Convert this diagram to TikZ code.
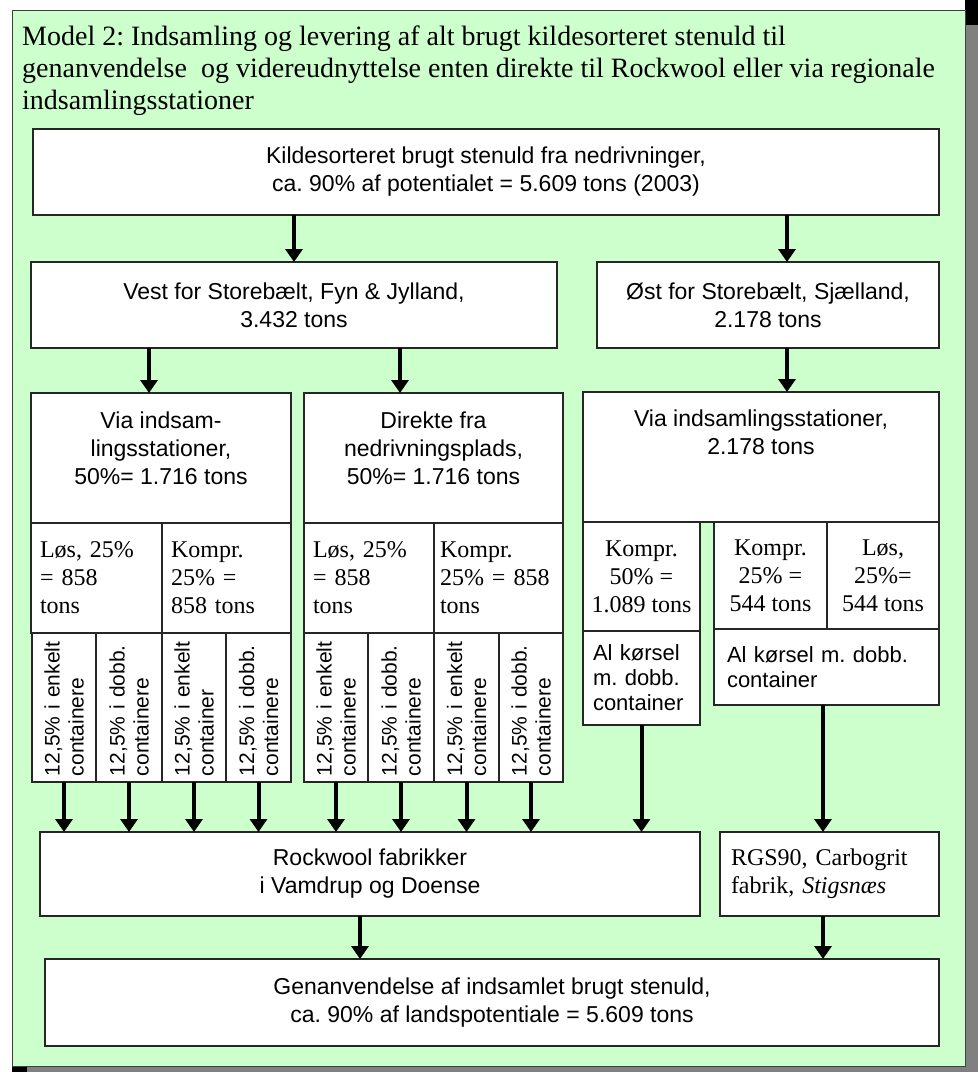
\documentclass[tikz,border=0pt]{standalone}
\usepackage{fontspec}
\setmainfont{Liberation Serif}
\setsansfont{Liberation Sans}
\frenchspacing
\usetikzlibrary{arrows.meta, positioning, calc}

\definecolor{bggreen}{RGB}{204,255,204}
\definecolor{shadowgray}{RGB}{128,128,128}

\tikzset{
  box/.style={draw=black!85, line width=1.5pt, fill=white, inner sep=0pt, outer sep=0pt,
    align=center, font=\sffamily\fontsize{23}{28}\selectfont},
  sbox/.style={box, font=\rmfamily\fontsize{24}{28}\selectfont},
  lbox/.style={box, align=left, font=\sffamily\fontsize{22}{25}\selectfont},
  vbox/.style={box, rotate=90, align=left, inner xsep=6pt, text width=137pt,
    minimum width=149pt, font=\sffamily\fontsize{21}{24}\selectfont},
  txt/.style={align=center, inner sep=0pt, font=\sffamily\fontsize{23}{28}\selectfont},
  flow/.style={line width=4pt, -{Triangle[length=13pt,width=17pt]}}
}

\begin{document}
\begin{tikzpicture}[x=1pt, y=-1pt]
  \useasboundingbox (0,0) rectangle (978,1072);
  % frame with shadow
  \fill[shadowgray] (27,25) rectangle (978,1072);
  \fill[black] (965,0) rectangle (978,25);
  \fill[black] (12,1066) rectangle (27,1072);
  \filldraw[fill=bggreen, draw=black!75, line width=1pt] (12,10) rectangle (965,1066);

  \node[anchor=north west, inner sep=0pt, align=left, font=\rmfamily\fontsize{28}{32}\selectfont] (title) at (22,26)
    {Model 2: Indsamling og levering af alt brugt kildesorteret stenuld til\\
     genanvendelse\ \ og videreudnyttelse enten direkte til Rockwool eller via regionale\\
     indsamlingsstationer};

\node[box, minimum width=906pt, minimum height=86pt] (kilde) at (486,172) {Kildesorteret brugt stenuld fra nedrivninger,\\ca. 90\% af potentialet = 5.609 tons (2003)};
\node[box, minimum width=526pt, minimum height=86pt] (vest) at (294,305) {Vest for Storebælt, Fyn \& Jylland,\\3.432 tons};
\node[box, minimum width=342pt, minimum height=86pt] (oest) at (768,305) {Øst for Storebælt, Sjælland,\\2.178 tons};

\node[box, minimum width=260pt, minimum height=130pt] (viaV) at (161,458) {};
\node[txt] (viaVtxt) at (161,448.5) {Via indsam-\\lingsstationer,\\50\%= 1.716 tons};
\node[box, minimum width=259pt, minimum height=130pt] (direkte) at (433.5,458) {};
\node[txt] (direktetxt) at (433.5,448.5) {Direkte fra\\nedrivningsplads,\\50\%= 1.716 tons};
\node[box, minimum width=356pt, minimum height=130pt] (viaO) at (761,457) {};
\node[txt] (viaOtxt) at (761,432.5) {Via indsamlingsstationer,\\2.178 tons};

% west: loose / compressed
\node[sbox, align=left, inner xsep=9pt, minimum width=131pt, minimum height=110pt, text width=113pt] (losV) at (96.5,578) {Løs, 25\%\\= 858\\tons};
\node[sbox, align=left, inner xsep=9pt, minimum width=129pt, minimum height=110pt, text width=111pt] (komprV) at (226.5,578) {Kompr.\\25\% =\\858 tons};
\node[sbox, align=left, inner xsep=9pt, minimum width=130pt, minimum height=110pt, text width=112pt] (losD) at (369,578) {Løs, 25\%\\= 858\\tons};
\node[sbox, align=left, inner xsep=6pt, minimum width=129pt, minimum height=110pt, text width=117pt] (komprD) at (498.5,578) {Kompr.\\25\% = 858\\tons};

\node[vbox, minimum height=64pt] (v1) at (64,707.5) {12,5\% i enkelt\\containere};
\node[vbox, minimum height=66pt] (v2) at (129,707.5) {12,5\% i dobb.\\containere};
\node[vbox, minimum height=64pt] (v3) at (194,707.5) {12,5\% i enkelt\\container};
\node[vbox, minimum height=65pt] (v4) at (258.5,707.5) {12,5\% i dobb.\\containere};
\node[vbox, minimum height=64pt] (v5) at (336,707.5) {12,5\% i enkelt\\containere};
\node[vbox, minimum height=66pt] (v6) at (401,707.5) {12,5\% i dobb.\\containere};
\node[vbox, minimum height=65pt] (v7) at (466.5,707.5) {12,5\% i enkelt\\containere};
\node[vbox, minimum height=64pt] (v8) at (531,707.5) {12,5\% i dobb.\\containere};

% east
\node[sbox, minimum width=117pt, minimum height=109pt] (kompr50) at (641.5,576.5) {Kompr.\\50\% =\\1.089 tons};
\node[lbox, inner xsep=10pt, minimum width=117pt, minimum height=94pt, text width=97pt] (koersel1) at (641.5,678) {Al kørsel\\m. dobb.\\container};
\node[sbox, minimum width=113pt, minimum height=107pt] (kompr25) at (770.5,575.5) {Kompr.\\25\% =\\544 tons};
\node[sbox, minimum width=112pt, minimum height=107pt] (los25) at (883,575.5) {Løs,\\25\%=\\544 tons};
\node[lbox, inner xsep=13pt, minimum width=225pt, minimum height=76pt, text width=199pt] (koersel2) at (826.5,667) {Al kørsel m. dobb.\\container};

\node[box, minimum width=660pt, minimum height=84pt] (rockwool) at (370,874) {Rockwool fabrikker\\i Vamdrup og Doense};
\node[sbox, align=left, inner xsep=11pt, minimum width=219pt, minimum height=84pt, text width=197pt] (rgs) at (829.5,874) {RGS90, Carbogrit\\fabrik, \textit{Stigsnæs}};
\node[box, minimum width=894pt, minimum height=87pt] (genanv) at (492,1002.5) {Genanvendelse af indsamlet brugt stenuld,\\ca. 90\% af landspotentiale = 5.609 tons};

\coordinate (eastx) at (787,0);
\coordinate (viax) at (149,0);
\coordinate (direktex) at (400,0);
\coordinate (rgsx) at (823,0);
\coordinate (rockx) at (360,0);

\path[flow]
  (kilde.south -| vest.north) edge (vest.north)
  (kilde.south -| eastx) edge (oest.north -| eastx)
  (vest.south -| viax) edge (viaV.north -| viax)
  (vest.south -| direktex) edge (direkte.north -| direktex)
  (oest.south -| eastx) edge (viaO.north -| eastx)
  (v1.west) edge (v1.west |- rockwool.north)
  (v2.west) edge (v2.west |- rockwool.north)
  (v3.west) edge (v3.west |- rockwool.north)
  (v4.west) edge (v4.west |- rockwool.north)
  (v5.west) edge (v5.west |- rockwool.north)
  (v6.west) edge (v6.west |- rockwool.north)
  (v7.west) edge (v7.west |- rockwool.north)
  (v8.west) edge (v8.west |- rockwool.north)
  (koersel1.south) edge (koersel1.south |- rockwool.north)
  (koersel2.south -| rgsx) edge (rgs.north -| rgsx)
  (rockwool.south -| rockx) edge (genanv.north -| rockx)
  (rgs.south -| rgsx) edge (genanv.north -| rgsx)
;
\end{tikzpicture}
\end{document}
